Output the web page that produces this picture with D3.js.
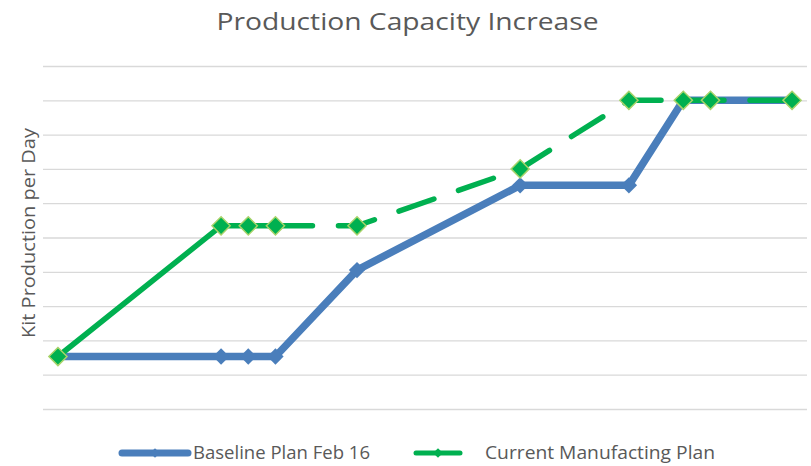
<!DOCTYPE html>
<html lang="en">

<head>
    <meta charset="UTF-8">
    <title>Production Capacity Increase</title>
    <script src="https://d3js.org/d3.v7.min.js"></script>
    <style>
        body { margin: 0; background: #fff; }
        text { font-family: "Open Sans", "Noto Sans", sans-serif; fill: #595959; }
    </style>
</head>

<body>
    <svg id="chart" width="811" height="466"></svg>
    <script>
        // x = month offset of each plan point, y = kits per day (axis unlabeled)
        var months = [0, 6, 7, 8, 11, 17, 21, 23, 24, 27];
        var baseline = [1.53, 1.53, 1.53, 1.53, 4.05, 6.52, 6.52, 9, 9, 9];
        var current = [1.53, 5.34, 5.34, 5.34, 5.34, 7, 9, 9, 9, 9];
        var gridTicks = d3.range(0, 11);
        var seriesNames = ["Baseline Plan Feb 16", "Current Manufacting Plan"];

        var blue = "#4a7ebb", green = "#00b050", edge = "#a8d36a";

        var svg = d3.select("#chart"),
            width = +svg.attr("width"),
            height = +svg.attr("height");

        var x = d3.scaleLinear().domain([-0.55, 27.55]).range([43, 807]);
        var y = d3.scaleLinear().domain([0, 10]).range([409, 66]);

        // gridlines
        svg.append("g")
            .attr("transform", "translate(" + x.range()[0] + ",0)")
            .call(d3.axisLeft(y).tickValues(gridTicks).tickSize(-(x.range()[1] - x.range()[0])).tickFormat(""))
            .call(g => g.select(".domain").remove())
            .selectAll("line").attr("stroke", "#d9d9d9").attr("stroke-width", 1.3);

        // title
        svg.append("text")
            .attr("x", width / 2 + 2).attr("y", 30)
            .attr("text-anchor", "middle")
            .attr("font-size", 24)
            .attr("textLength", 382).attr("lengthAdjust", "spacingAndGlyphs")
            .text("Production Capacity Increase");

        // y label
        svg.append("text")
            .attr("transform", "translate(35,233) rotate(-90)")
            .attr("text-anchor", "middle")
            .attr("font-size", 19)
            .attr("textLength", 210).attr("lengthAdjust", "spacingAndGlyphs")
            .text("Kit Production per Day");

        var line = d3.line().x(d => x(d[0])).y(d => y(d[1]));
        var blueData = months.map((m, i) => [m, baseline[i]]);
        var greenData = months.map((m, i) => [m, current[i]]);

        var diamond = d3.symbol().type(d3.symbolDiamond2);

        // baseline series
        svg.append("path")
            .attr("d", line(blueData))
            .attr("fill", "none").attr("stroke", blue)
            .attr("stroke-width", 7.5).attr("stroke-linejoin", "round");
        svg.append("g").selectAll("path")
            .data(blueData).enter().append("path")
            .attr("transform", d => "translate(" + x(d[0]) + "," + y(d[1]) + ")")
            .attr("d", diamond.size(170))
            .attr("fill", blue);

        // current plan: solid at first, then long dashes
        svg.append("path")
            .attr("d", line(greenData.slice(0, 4)))
            .attr("fill", "none").attr("stroke", green)
            .attr("stroke-width", 5.5).attr("stroke-linejoin", "round");
        svg.append("path")
            .attr("d", line(greenData.slice(3)))
            .attr("fill", "none").attr("stroke", green)
            .attr("stroke-width", 5.5).attr("stroke-linecap", "round")
            .attr("stroke-dasharray", "37 26");
        svg.append("g").selectAll("path")
            .data(greenData).enter().append("path")
            .attr("transform", d => "translate(" + x(d[0]) + "," + y(d[1]) + ")")
            .attr("d", diamond.size(210))
            .attr("fill", green)
            .attr("stroke", edge).attr("stroke-width", 1.5);

        // legend
        var legend = [
            { name: seriesNames[0], color: blue, x1: 122, x2: 188, w: 7, tx: 193, tl: 177 },
            { name: seriesNames[1], color: green, x1: 416, x2: 460, w: 5, tx: 485, tl: 230 }
        ];
        var lg = svg.append("g").selectAll("g").data(legend).enter().append("g");
        lg.append("line")
            .attr("x1", d => d.x1).attr("x2", d => d.x2)
            .attr("y1", 453).attr("y2", 453)
            .attr("stroke", d => d.color).attr("stroke-width", d => d.w)
            .attr("stroke-linecap", "round");
        lg.append("path")
            .attr("transform", d => "translate(" + (d.x1 + d.x2) / 2 + ",453)")
            .attr("d", diamond.size(60))
            .attr("fill", d => d.color);
        lg.append("text")
            .attr("x", d => d.tx).attr("y", 459)
            .attr("font-size", 18)
            .attr("textLength", d => d.tl).attr("lengthAdjust", "spacingAndGlyphs")
            .text(d => d.name);
    </script>
</body>

</html>
